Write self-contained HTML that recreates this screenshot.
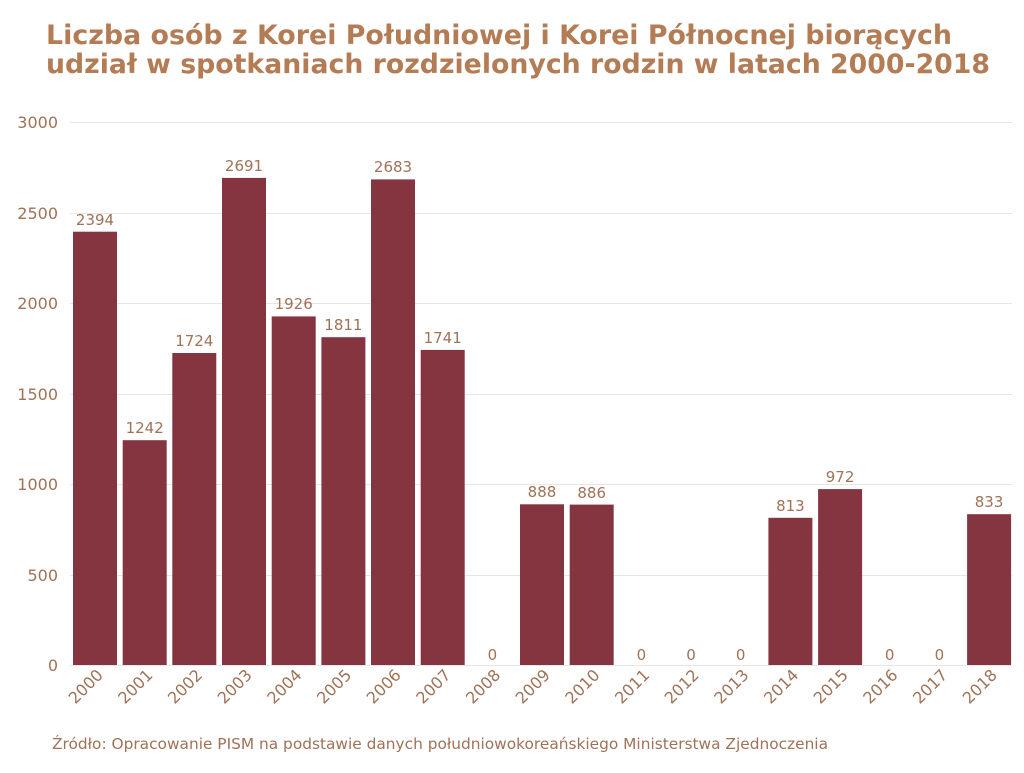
<!DOCTYPE html>
<html><head><meta charset="utf-8"><style>
body{margin:0;background:#fff;}
svg text{font-family:"DejaVu Sans","Liberation Sans",sans-serif;}
</style></head><body>
<svg width="1024" height="768" xmlns="http://www.w3.org/2000/svg">
<text x="46" y="44" font-size="27" font-weight="bold" fill="#b47c55" textLength="906" lengthAdjust="spacingAndGlyphs">Liczba osób z Korei Południowej i Korei Północnej biorących</text>
<text x="46" y="73" font-size="27" font-weight="bold" fill="#b47c55" textLength="944" lengthAdjust="spacingAndGlyphs">udział w spotkaniach rozdzielonych rodzin w latach 2000-2018</text>
<g stroke="#e6e6e6" stroke-width="1">
<line x1="70" x2="1012" y1="122.5" y2="122.5"/><line x1="70" x2="1012" y1="213.5" y2="213.5"/><line x1="70" x2="1012" y1="303.5" y2="303.5"/><line x1="70" x2="1012" y1="394.5" y2="394.5"/><line x1="70" x2="1012" y1="484.5" y2="484.5"/><line x1="70" x2="1012" y1="575.5" y2="575.5"/><line x1="70" x2="1012" y1="665.5" y2="665.5"/>
</g>
<g font-size="16" fill="#a07258" text-anchor="end">
<text x="58" y="128">3000</text><text x="58" y="219">2500</text><text x="58" y="309">2000</text><text x="58" y="400">1500</text><text x="58" y="490">1000</text><text x="58" y="581">500</text><text x="58" y="671">0</text>
</g>
<g fill="#843540">
<rect x="73" y="231.7" width="44" height="433.3"/>
<rect x="122.7" y="440.2" width="44" height="224.8"/>
<rect x="172.3" y="353" width="44" height="312"/>
<rect x="222" y="177.9" width="44" height="487.1"/>
<rect x="271.7" y="316.4" width="44" height="348.6"/>
<rect x="321.4" y="337.2" width="44" height="327.8"/>
<rect x="371" y="179.4" width="44" height="485.6"/>
<rect x="420.7" y="349.9" width="44" height="315.1"/>
<rect x="520" y="504.3" width="44" height="160.7"/>
<rect x="569.7" y="504.6" width="44" height="160.4"/>
<rect x="768.4" y="517.8" width="44" height="147.2"/>
<rect x="818.1" y="489.1" width="44" height="175.9"/>
<rect x="967.1" y="514.2" width="44" height="150.8"/>
</g>
<g font-size="15" fill="#a07258" text-anchor="middle">
<text x="95" y="225">2394</text>
<text x="144.7" y="433">1242</text>
<text x="194.3" y="346">1724</text>
<text x="244" y="171">2691</text>
<text x="293.7" y="309">1926</text>
<text x="343.4" y="330">1811</text>
<text x="393" y="172">2683</text>
<text x="442.7" y="343">1741</text>
<text x="492.4" y="660">0</text>
<text x="542" y="497">888</text>
<text x="591.7" y="498">886</text>
<text x="641.4" y="660">0</text>
<text x="691" y="660">0</text>
<text x="740.7" y="660">0</text>
<text x="790.4" y="511">813</text>
<text x="840.1" y="482">972</text>
<text x="889.7" y="660">0</text>
<text x="939.4" y="660">0</text>
<text x="989.1" y="507">833</text>
</g>
<g font-size="16" fill="#a07258" text-anchor="end">
<text transform="translate(104,676) rotate(-45)">2000</text>
<text transform="translate(153.7,676) rotate(-45)">2001</text>
<text transform="translate(203.3,676) rotate(-45)">2002</text>
<text transform="translate(253,676) rotate(-45)">2003</text>
<text transform="translate(302.7,676) rotate(-45)">2004</text>
<text transform="translate(352.4,676) rotate(-45)">2005</text>
<text transform="translate(402,676) rotate(-45)">2006</text>
<text transform="translate(451.7,676) rotate(-45)">2007</text>
<text transform="translate(501.4,676) rotate(-45)">2008</text>
<text transform="translate(551,676) rotate(-45)">2009</text>
<text transform="translate(600.7,676) rotate(-45)">2010</text>
<text transform="translate(650.4,676) rotate(-45)">2011</text>
<text transform="translate(700,676) rotate(-45)">2012</text>
<text transform="translate(749.7,676) rotate(-45)">2013</text>
<text transform="translate(799.4,676) rotate(-45)">2014</text>
<text transform="translate(849.1,676) rotate(-45)">2015</text>
<text transform="translate(898.7,676) rotate(-45)">2016</text>
<text transform="translate(948.4,676) rotate(-45)">2017</text>
<text transform="translate(998.1,676) rotate(-45)">2018</text>
</g>
<text x="52" y="749" font-size="15" fill="#a07258" textLength="776" lengthAdjust="spacingAndGlyphs">Źródło: Opracowanie PISM na podstawie danych południowokoreańskiego Ministerstwa Zjednoczenia</text>
</svg>
</body></html>
